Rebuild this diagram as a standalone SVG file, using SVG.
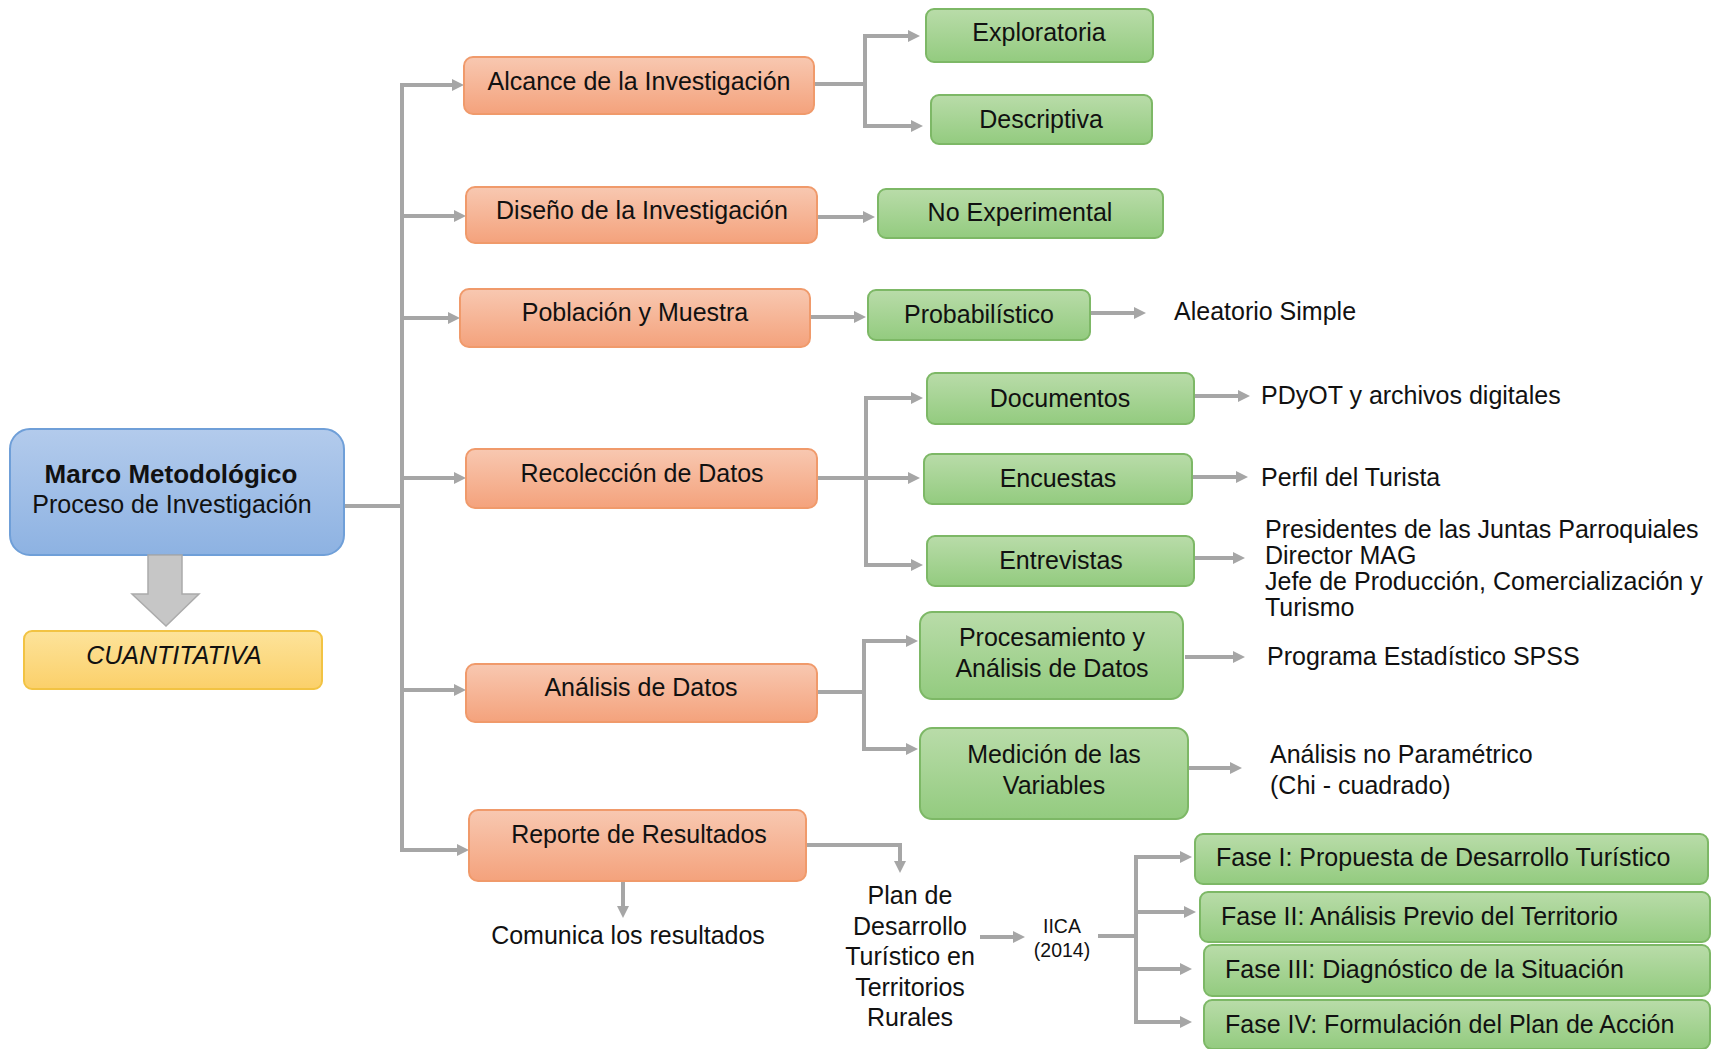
<svg xmlns="http://www.w3.org/2000/svg" width="1712" height="1049" viewBox="0 0 1712 1049">
<defs>
<linearGradient id="gBlue" x1="0" y1="0" x2="0" y2="1"><stop offset="0" stop-color="#b3cbec"/><stop offset="1" stop-color="#8db2e2"/></linearGradient>
<linearGradient id="gOr" x1="0" y1="0" x2="0" y2="1"><stop offset="0" stop-color="#f8c8b1"/><stop offset="1" stop-color="#f4a27c"/></linearGradient>
<linearGradient id="gGr" x1="0" y1="0" x2="0" y2="1"><stop offset="0" stop-color="#b9dca9"/><stop offset="1" stop-color="#93cb7f"/></linearGradient>
<linearGradient id="gYe" x1="0" y1="0" x2="0" y2="1"><stop offset="0" stop-color="#fde39a"/><stop offset="1" stop-color="#fbd06a"/></linearGradient>
<marker id="ah" markerUnits="userSpaceOnUse" markerWidth="12" markerHeight="12" refX="2" refY="6" orient="auto"><path d="M0,0 L12,6 L0,12 z" fill="#a6a6a6"/></marker>
<style>
text{font-family:"Liberation Sans",Arial,sans-serif;font-size:25px;fill:#111}
.c{text-anchor:middle}
.or{fill:url(#gOr);stroke:#f09a6b;stroke-width:2}
.gr{fill:url(#gGr);stroke:#7db866;stroke-width:2}
.cn path{fill:none;stroke:#a6a6a6;stroke-width:4}
.ar{marker-end:url(#ah)}
</style>
</defs>
<rect width="1712" height="1049" fill="#fff"/>

<g class="cn" id="connectors">
<path d="M344,506 H402"/>
<path d="M402,83 V852"/>
<path class="ar" d="M400,85 H454"/>
<path class="ar" d="M400,216 H456"/>
<path class="ar" d="M400,318 H450"/>
<path class="ar" d="M400,478 H456"/>
<path class="ar" d="M400,690 H456"/>
<path class="ar" d="M400,850 H459"/>
<path d="M814,84 H865"/>
<path d="M865,34 V128"/>
<path class="ar" d="M863,36 H910"/>
<path class="ar" d="M863,126 H913"/>
<path class="ar" d="M817,217 H865"/>
<path class="ar" d="M810,317 H856"/>
<path class="ar" d="M1090,313 H1136"/>
<path d="M817,478 H866"/>
<path d="M866,396 V567"/>
<path class="ar" d="M864,398 H913"/>
<path class="ar" d="M866,478 H910"/>
<path class="ar" d="M864,565 H913"/>
<path class="ar" d="M1194,396 H1240"/>
<path class="ar" d="M1192,477 H1238"/>
<path class="ar" d="M1194,558 H1235"/>
<path d="M817,692 H864"/>
<path d="M864,639 V751"/>
<path class="ar" d="M862,641 H908"/>
<path class="ar" d="M862,749 H908"/>
<path class="ar" d="M1185,657 H1235"/>
<path class="ar" d="M1188,768 H1232"/>
<path class="ar" d="M806,845 H900 V863"/>
<path class="ar" d="M623,881 V908"/>
<path class="ar" d="M980,937 H1015"/>
<path d="M1098,936 H1136"/>
<path d="M1136,855 V1024"/>
<path class="ar" d="M1134,857 H1182"/>
<path class="ar" d="M1134,912 H1186"/>
<path class="ar" d="M1134,969 H1182"/>
<path class="ar" d="M1134,1022 H1182"/>
</g>

<g id="n-main">
<rect x="10" y="429" width="334" height="126" rx="20" fill="url(#gBlue)" stroke="#6f9fd8" stroke-width="2"/>
<text class="c" x="171" y="483" font-weight="bold" style="font-size:26px">Marco Metodológico</text>
<text class="c" x="172" y="513">Proceso de Investigación</text>
</g>
<g id="n-arrow-down">
<polygon points="148,555 182,555 182,594 199,594 166,626 132,594 148,594" fill="#c6c6c6" stroke="#ababab" stroke-width="1.5"/>
</g>
<g id="n-cuant">
<rect x="24" y="631" width="298" height="58" rx="8" fill="url(#gYe)" stroke="#f2c343" stroke-width="2"/>
<text class="c" x="174" y="664" font-style="italic">CUANTITATIVA</text>
</g>

<g id="n-alcance"><rect class="or" x="464" y="57" width="350" height="57" rx="9"/><text class="c" x="639" y="90">Alcance de la Investigación</text></g>
<g id="n-diseno"><rect class="or" x="466" y="187" width="351" height="56" rx="9"/><text class="c" x="642" y="219">Diseño de la Investigación</text></g>
<g id="n-poblacion"><rect class="or" x="460" y="289" width="350" height="58" rx="9"/><text class="c" x="635" y="321">Población y Muestra</text></g>
<g id="n-recoleccion"><rect class="or" x="466" y="449" width="351" height="59" rx="9"/><text class="c" x="642" y="482">Recolección de Datos</text></g>
<g id="n-analisis"><rect class="or" x="466" y="664" width="351" height="58" rx="9"/><text class="c" x="641" y="696">Análisis de Datos</text></g>
<g id="n-reporte"><rect class="or" x="469" y="810" width="337" height="71" rx="9"/><text class="c" x="639" y="843">Reporte de Resultados</text></g>

<g id="n-exploratoria"><rect class="gr" x="926" y="9" width="227" height="53" rx="8"/><text class="c" x="1039" y="41">Exploratoria</text></g>
<g id="n-descriptiva"><rect class="gr" x="931" y="95" width="221" height="49" rx="8"/><text class="c" x="1041" y="128">Descriptiva</text></g>
<g id="n-noexp"><rect class="gr" x="878" y="189" width="285" height="49" rx="8"/><text class="c" x="1020" y="221">No Experimental</text></g>
<g id="n-prob"><rect class="gr" x="868" y="290" width="222" height="50" rx="8"/><text class="c" x="979" y="323">Probabilístico</text></g>
<g id="n-documentos"><rect class="gr" x="927" y="373" width="267" height="51" rx="8"/><text class="c" x="1060" y="407">Documentos</text></g>
<g id="n-encuestas"><rect class="gr" x="924" y="454" width="268" height="50" rx="8"/><text class="c" x="1058" y="487">Encuestas</text></g>
<g id="n-entrevistas"><rect class="gr" x="927" y="536" width="267" height="50" rx="8"/><text class="c" x="1061" y="569">Entrevistas</text></g>
<g id="n-procesamiento"><rect class="gr" x="920" y="612" width="263" height="87" rx="12"/><text class="c" x="1052" y="646">Procesamiento y</text><text class="c" x="1052" y="677">Análisis de Datos</text></g>
<g id="n-medicion"><rect class="gr" x="920" y="728" width="268" height="91" rx="12"/><text class="c" x="1054" y="763">Medición de las</text><text class="c" x="1054" y="794">Variables</text></g>
<g id="n-fase1"><rect class="gr" x="1195" y="834" width="513" height="50" rx="8"/><text x="1216" y="866">Fase I: Propuesta de Desarrollo Turístico</text></g>
<g id="n-fase2"><rect class="gr" x="1200" y="892" width="510" height="50" rx="8"/><text x="1221" y="925">Fase II: Análisis Previo del Territorio</text></g>
<g id="n-fase3"><rect class="gr" x="1204" y="945" width="506" height="51" rx="8"/><text x="1225" y="978">Fase III: Diagnóstico de la Situación</text></g>
<g id="n-fase4"><rect class="gr" x="1204" y="1000" width="506" height="49" rx="8"/><text x="1225" y="1033">Fase IV: Formulación del Plan de Acción</text></g>

<g id="t-aleatorio"><text x="1174" y="320">Aleatorio Simple</text></g>
<g id="t-pdyot"><text x="1261" y="404">PDyOT y archivos digitales</text></g>
<g id="t-perfil"><text x="1261" y="486">Perfil del Turista</text></g>
<g id="t-entrevistados">
<text x="1265" y="538">Presidentes de las Juntas Parroquiales</text>
<text x="1265" y="564">Director MAG</text>
<text x="1265" y="590">Jefe de Producción, Comercialización y</text>
<text x="1265" y="616">Turismo</text>
</g>
<g id="t-spss"><text x="1267" y="665">Programa Estadístico SPSS</text></g>
<g id="t-chi"><text x="1270" y="763">Análisis no Paramétrico</text><text x="1270" y="794">(Chi - cuadrado)</text></g>
<g id="t-comunica"><text class="c" x="628" y="944">Comunica los resultados</text></g>
<g id="t-plan">
<text class="c" x="910" y="904">Plan de</text>
<text class="c" x="910" y="935">Desarrollo</text>
<text class="c" x="910" y="965">Turístico en</text>
<text class="c" x="910" y="996">Territorios</text>
<text class="c" x="910" y="1026">Rurales</text>
</g>
<g id="t-iica"><text class="c" x="1062" y="933" style="font-size:19.5px">IICA</text><text class="c" x="1062" y="957" style="font-size:19.5px">(2014)</text></g>
</svg>
